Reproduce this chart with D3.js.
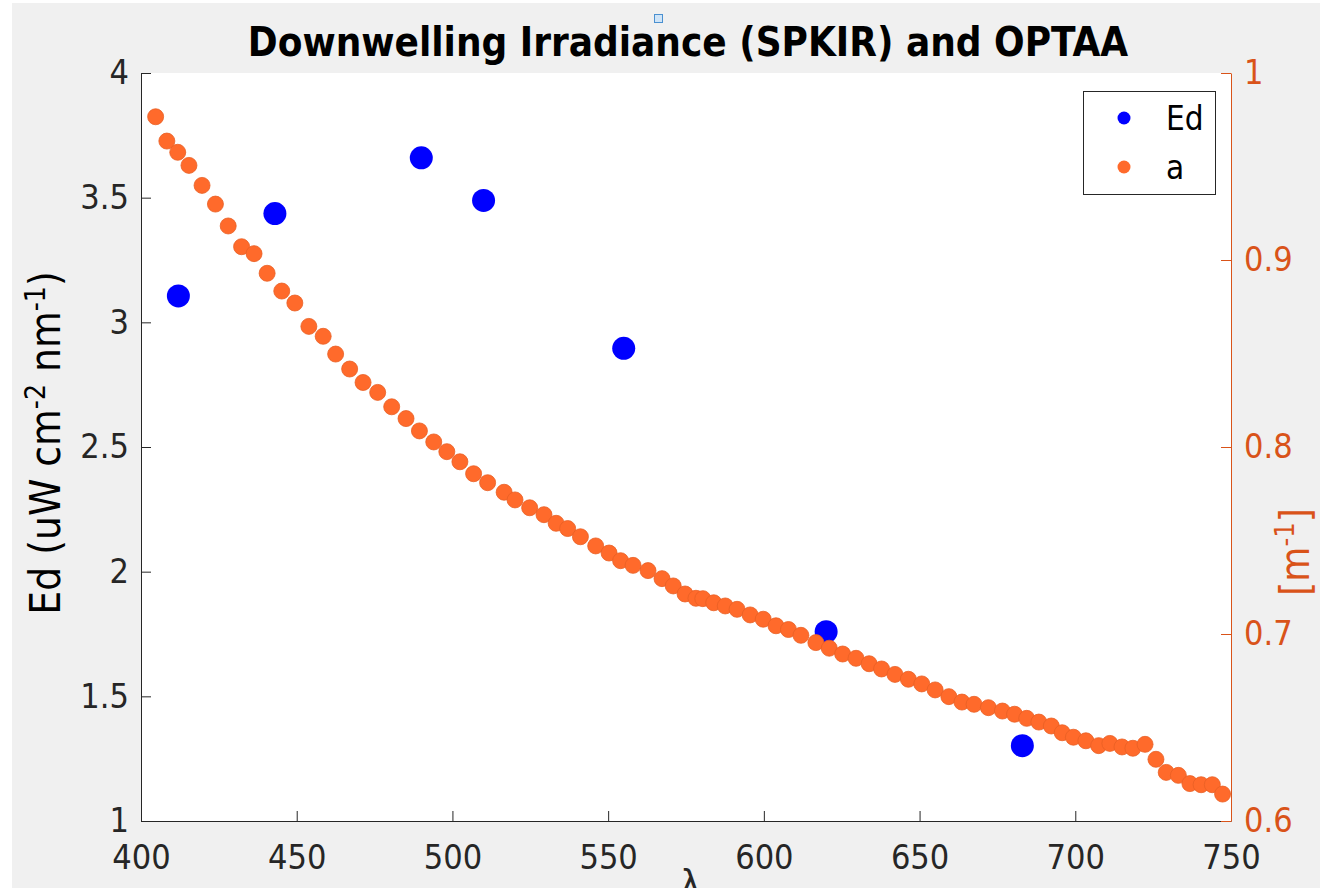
<!DOCTYPE html>
<html>
<head>
<meta charset="utf-8">
<script src="https://cdnjs.cloudflare.com/ajax/libs/d3/7.8.5/d3.min.js"></script>
<style>
  html, body { margin: 0; padding: 0; background: #fff; }
  svg { display: block; }
  text { font-family: "Comic Sans MS", "DejaVu Sans Condensed", "DejaVu Sans", sans-serif; }
</style>
</head>
<body>
<div id="chart"></div>
<script>

// SPKIR Ed (7 bands)
var edWl = [412, 443, 490, 510, 555, 620, 683];
var edVal = [3.106, 3.436, 3.660, 3.489, 2.896, 1.759, 1.302];

// OPTAA absorption a
var aWl = [404.7, 408.3, 411.8, 415.4, 419.6, 423.9, 428.0, 432.3, 436.3, 440.5,
	445.2, 449.4, 453.9, 458.5, 462.5, 467.0, 471.3, 476.0, 480.5, 485.1,
	489.4, 494.0, 498.2, 502.4, 506.8, 511.3, 516.6, 520.1, 524.8, 529.4,
	533.3, 537.0, 541.1, 546.0, 550.3, 554.0, 558.0, 562.8, 567.3, 570.9,
	574.7, 578.2, 580.4, 583.9, 587.6, 591.4, 595.6, 599.8, 603.9, 607.9,
	611.9, 616.7, 621.0, 625.3, 629.6, 633.8, 637.8, 642.1, 646.4, 650.7,
	655.0, 659.4, 663.6, 667.5, 672.1, 676.6, 680.5, 684.4, 688.3, 692.3,
	695.8, 699.4, 703.4, 707.5, 711.1, 715.0, 718.5, 722.4, 725.9, 729.2,
	733.1, 736.8, 740.4, 744.0, 747.3];
var aVal = [0.9766, 0.9636, 0.9576, 0.9506, 0.9399, 0.9299, 0.9182, 0.9071, 0.9034, 0.8929,
	0.8834, 0.8770, 0.8645, 0.8592, 0.8497, 0.8417, 0.8345, 0.8292, 0.8215, 0.8152,
	0.8086, 0.8027, 0.7975, 0.7921, 0.7857, 0.7809, 0.7758, 0.7717, 0.7675, 0.7638,
	0.7592, 0.7564, 0.7520, 0.7471, 0.7433, 0.7392, 0.7367, 0.7339, 0.7296, 0.7257,
	0.7214, 0.7191, 0.7189, 0.7167, 0.7150, 0.7132, 0.7102, 0.7079, 0.7044, 0.7024,
	0.6993, 0.6954, 0.6924, 0.6893, 0.6870, 0.6841, 0.6813, 0.6784, 0.6758, 0.6733,
	0.6701, 0.6665, 0.6636, 0.6624, 0.6606, 0.6588, 0.6571, 0.6549, 0.6529, 0.6508,
	0.6472, 0.6448, 0.6429, 0.6403, 0.6415, 0.6396, 0.6389, 0.6410, 0.6330, 0.6260,
	0.6244, 0.6200, 0.6194, 0.6194, 0.6144];

// ticks
var wlTicks = [400, 450, 500, 550, 600, 650, 700, 750];
var edTicks = [1, 1.5, 2, 2.5, 3, 3.5, 4];
var aTicks = [0.6, 0.7, 0.8, 0.9, 1];

var W = 1320, H = 888;
// plot box (careful: "top" is taken by window)
var pL = 141, pR = 1231, pT = 73, pB = 821;
var orange = "#D95319";
var ink = "#262626";

var svg = d3.select("#chart").append("svg")
	.attr("width", W)
	.attr("height", H);

// figure background (matlab grey)
svg.append("rect").attr("x", 12).attr("y", 3).attr("width", W - 12).attr("height", H - 3).attr("fill", "#f0f0f0");
// plot area
svg.append("rect").attr("x", pL).attr("y", pT).attr("width", pR - pL).attr("height", pB - pT).attr("fill", "#fff");

var x = d3.scaleLinear().domain([400, 750]).range([pL, pR]);
var yL = d3.scaleLinear().domain([1, 4]).range([pB, pT]);
var yR = d3.scaleLinear().domain([0.6, 1]).range([pB, pT]);
var fmt = d3.format("~g");

//==========================
// AXES
//==========================
var gx = svg.append("g")
	.attr("transform", "translate(0," + pB + ")")
	.call(d3.axisBottom(x).tickValues(wlTicks).tickFormat(fmt).tickSize(-10).tickSizeOuter(0).tickPadding(24));

var gl = svg.append("g")
	.attr("transform", "translate(" + pL + ",0)")
	.call(d3.axisLeft(yL).tickValues(edTicks).tickFormat(fmt).tickSize(-10).tickSizeOuter(0).tickPadding(12));

var gr = svg.append("g")
	.attr("transform", "translate(" + pR + ",0)")
	.call(d3.axisRight(yR).tickValues(aTicks).tickFormat(fmt).tickSize(-10).tickSizeOuter(0).tickPadding(13));

[gx, gl].forEach(function(g) {
	g.selectAll("path, line").attr("stroke", ink).attr("stroke-width", 1);
	g.selectAll("text").attr("fill", ink).style("font-size", "34px");
});
gr.selectAll("path, line").attr("stroke", orange).attr("stroke-width", 1);
gr.selectAll("text").attr("fill", orange).style("font-size", "34px");

//==========================
// POINTS
//==========================
var aData = aWl.map(function(d, i) { return {wl: d, v: aVal[i]}; });
var edData = edWl.map(function(d, i) { return {wl: d, v: edVal[i]}; });

svg.append("g").selectAll("circle")
	.data(edData)
	.enter().append("circle")
		.attr("cx", function(d) { return x(d.wl); })
		.attr("cy", function(d) { return yL(d.v); })
		.attr("r", 11.5)
		.attr("fill", "#0000ff");

svg.append("g").selectAll("circle")
	.data(aData)
	.enter().append("circle")
		.attr("cx", function(d) { return x(d.wl); })
		.attr("cy", function(d) { return yR(d.v); })
		.attr("r", 8)
		.attr("fill", "#ff6a2b")
		.attr("stroke", "#e85f25")
		.attr("stroke-width", 0.8);

//==========================
// TEXTS
//==========================
svg.append("text")
	.attr("x", 688).attr("y", 56)
	.attr("text-anchor", "middle")
	.style("font-size", "40px")
	.style("font-weight", "bold")
	.attr("fill", "#000")
	.text("Downwelling Irradiance (SPKIR) and OPTAA");

// little selection square above title
svg.append("rect").attr("x", 654.5).attr("y", 14.5).attr("width", 8).attr("height", 8)
	.attr("fill", "#cfe4f7").attr("stroke", "#4a90d0").attr("stroke-width", 1);

var yl = svg.append("text")
	.attr("transform", "translate(60,443) rotate(-90)")
	.attr("text-anchor", "middle")
	.style("font-size", "42px")
	.attr("fill", "#000");
yl.append("tspan").text("Ed (uW cm");
yl.append("tspan").attr("dy", -15).style("font-size", "28px").text("-2");
yl.append("tspan").attr("dy", 15).text(" nm");
yl.append("tspan").attr("dy", -15).style("font-size", "28px").text("-1");
yl.append("tspan").attr("dy", 15).text(")");

var yr = svg.append("text")
	.attr("transform", "translate(1309,552) rotate(-90)")
	.attr("text-anchor", "middle")
	.style("font-size", "40px")
	.attr("fill", orange);
yr.append("tspan").text("[m");
yr.append("tspan").attr("dy", -15).style("font-size", "27px").text("-1");
yr.append("tspan").attr("dy", 15).text("]");

// x label, cut by the figure bottom like in the source
svg.append("text")
	.attr("x", 690).attr("y", 896)
	.attr("text-anchor", "middle")
	.style("font-size", "38px")
	.attr("fill", ink)
	.text("λ");

//==========================
// LEGEND
//==========================
var lg = svg.append("g");
lg.append("rect").attr("x", 1083.5).attr("y", 91.5).attr("width", 132).attr("height", 103)
	.attr("fill", "#fff").attr("stroke", ink).attr("stroke-width", 1);
var items = [{name: "Ed", c: "#0000ff"}, {name: "a", c: "#ff6a2b"}];
items.forEach(function(it, i) {
	var cy = 118 + i * 49;
	lg.append("circle").attr("cx", 1124).attr("cy", cy).attr("r", 6.5).attr("fill", it.c);
	lg.append("text").attr("x", 1166).attr("y", cy).attr("dy", "0.35em")
		.style("font-size", "33px").attr("fill", "#000").text(it.name);
});

</script>
</body>
</html>
